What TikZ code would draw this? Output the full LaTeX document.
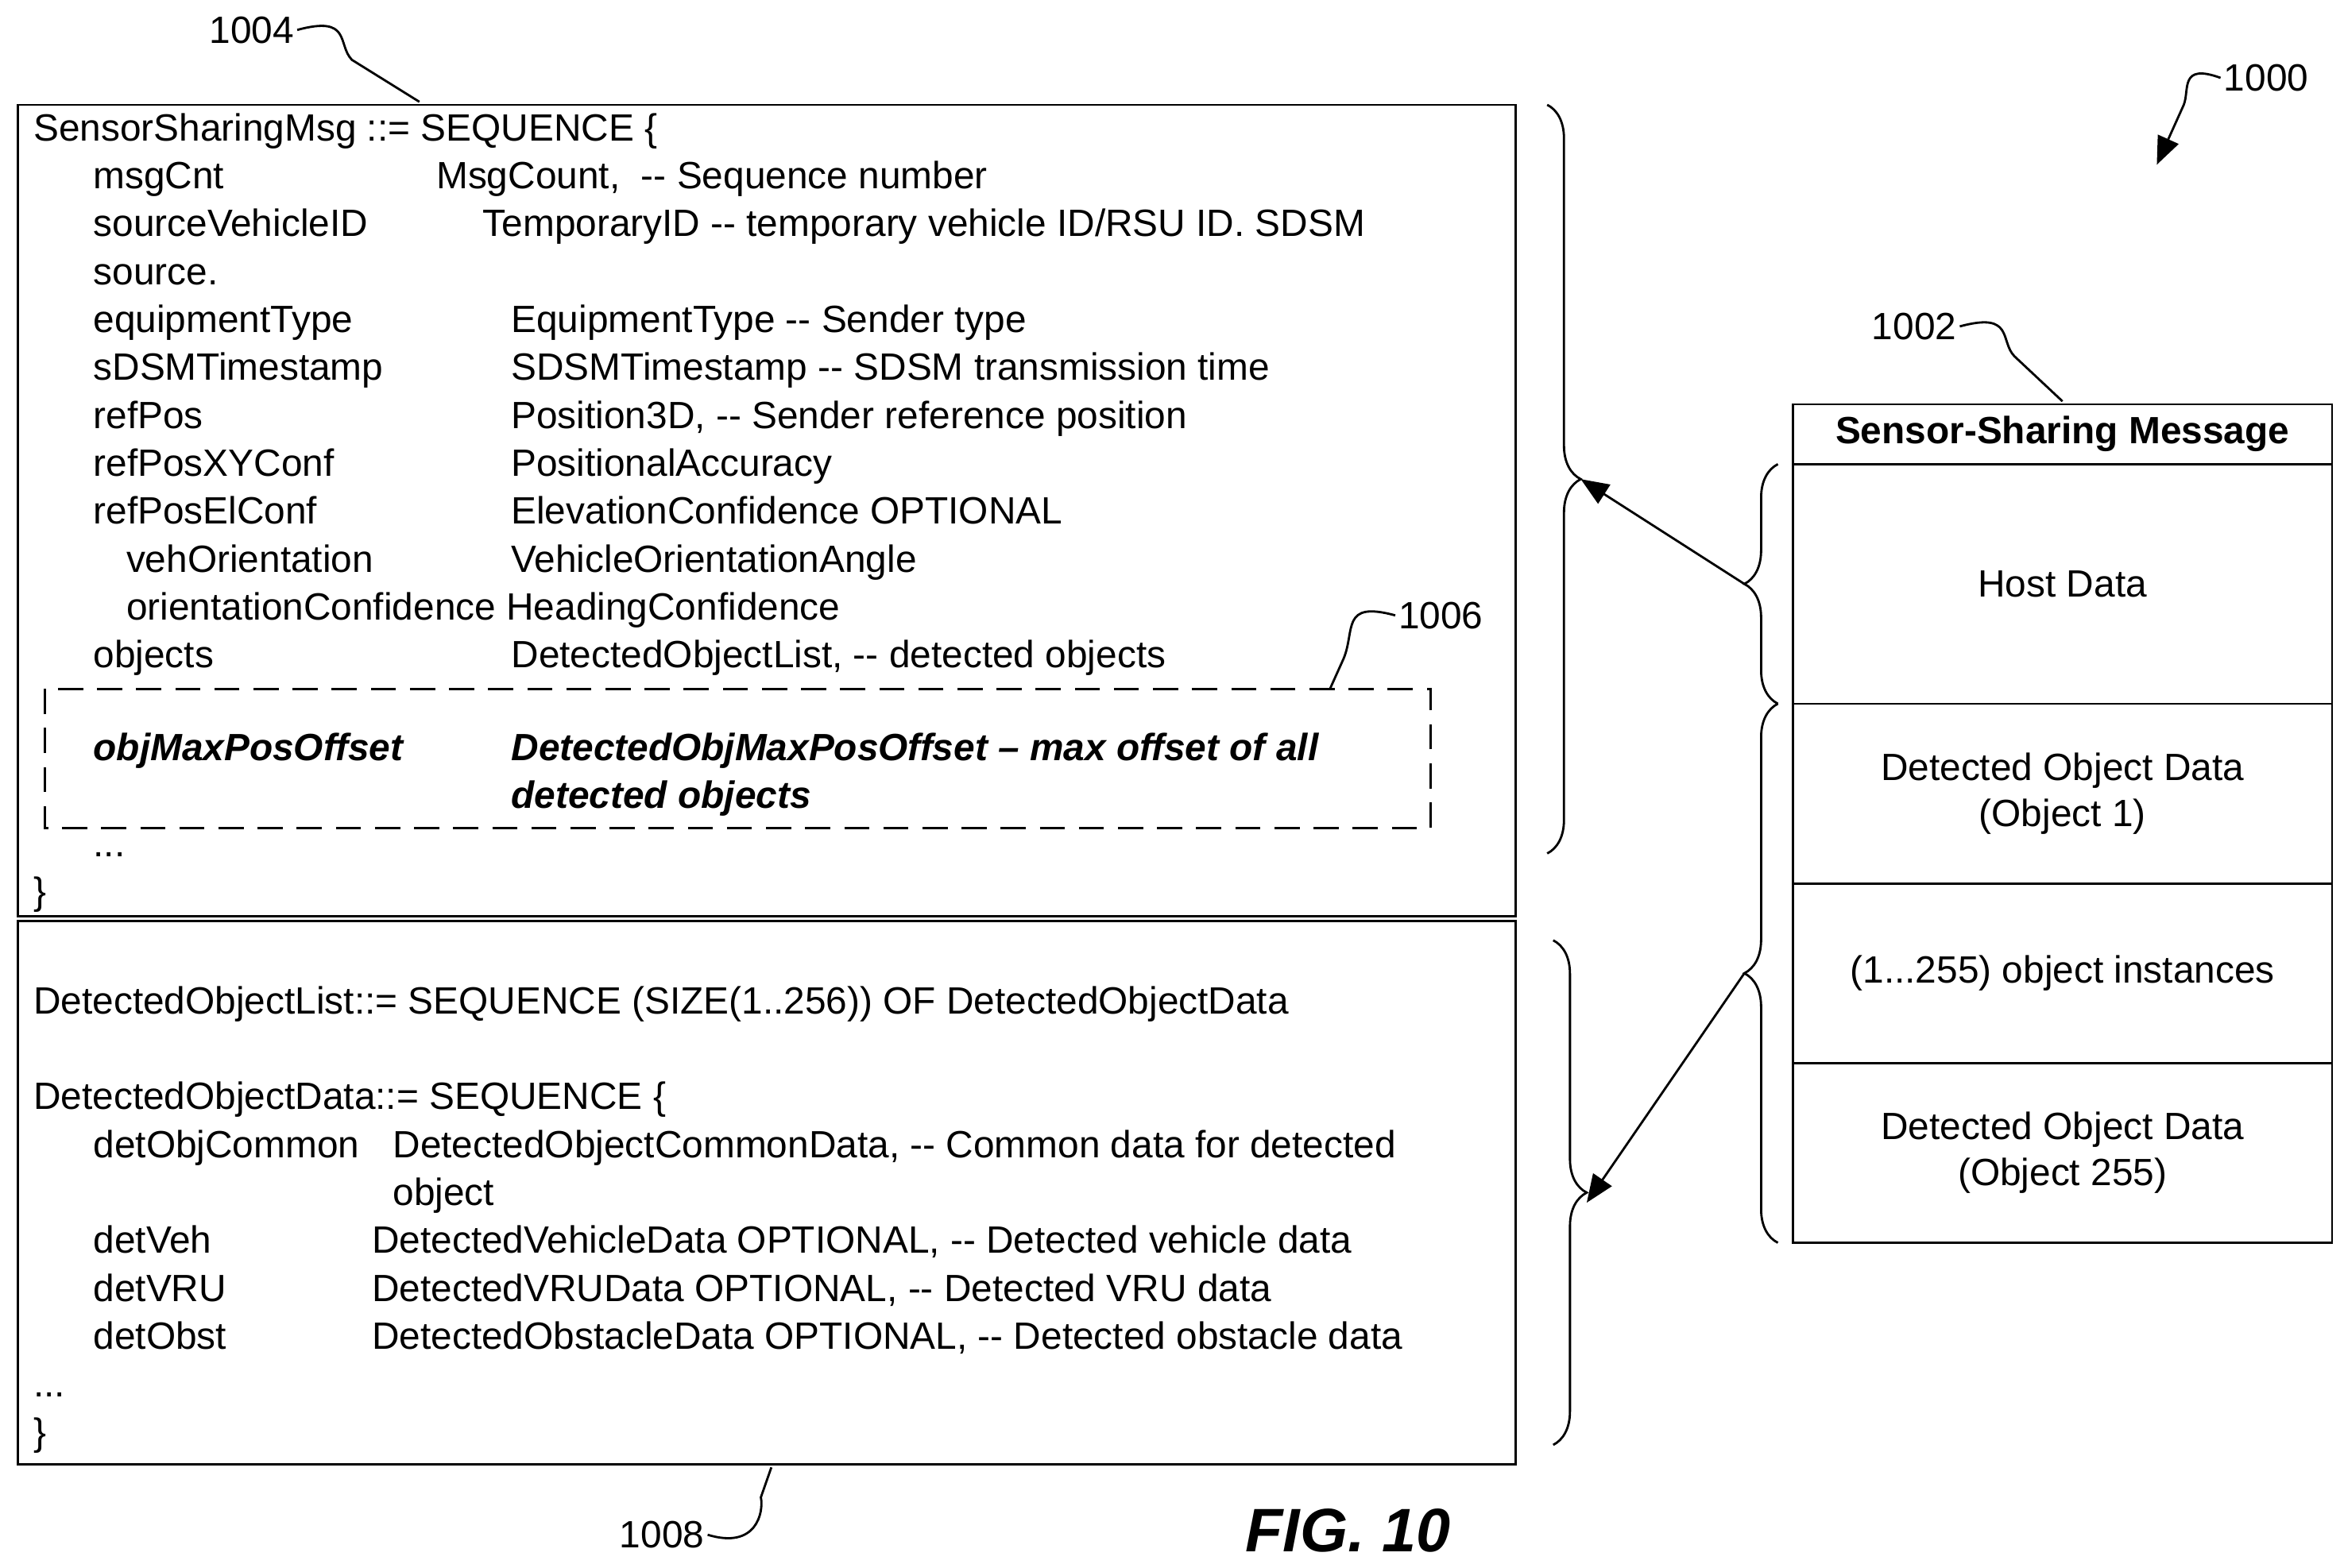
\documentclass[tikz,border=0pt]{standalone}
\usepackage{fontspec}
\setmainfont{Liberation Sans}[Ligatures=NoCommon]
\usetikzlibrary{decorations.pathreplacing,arrows.meta}
\newcommand{\dd}{-{}-}
\begin{document}
\begin{tikzpicture}[x=0.01885cm, y=-0.01885cm,
    txt/.style={anchor=base west, inner sep=0, font=\fontsize{13.6}{15}\selectfont},
    bold/.style={txt, font=\fontsize{13.6}{15}\selectfont\bfseries\itshape},
    cell/.style={draw, thick, minimum width=360*0.01885cm, align=center, font=\fontsize{13.6}{16.5}\selectfont},
    brc/.style={draw, thick, decorate, decoration={brace, amplitude=12pt}},
    lead/.style={draw, thick},
    num/.style={inner sep=1pt, font=\fontsize{13.6}{15}\selectfont}]
\useasboundingbox (0,0) rectangle (1565,1047);

% boxes
\draw[thick] (12,70) rectangle (1012,612);
\draw[thick] (12,615) rectangle (1012,978);
\draw[thick, dashed, dash pattern=on 9pt off 5pt] (30,460) rectangle (955,553);

% upper listing
\node[txt] (s0) at (22,94) {SensorSharingMsg ::= SEQUENCE \{};
\node[txt] at (62,126) {msgCnt};
\node[txt] at (291,126) {MsgCount,\ \ \dd{} Sequence number};
\node[txt] at (62,158) {sourceVehicleID};
\node[txt] at (322,158) {TemporaryID \dd{} temporary vehicle ID/RSU ID. SDSM};
\node[txt] at (62,190) {source.};
\node[txt] at (62,222) {equipmentType};
\node[txt] at (341,222) {EquipmentType \dd{} Sender type};
\node[txt] at (62,254) {sDSMTimestamp};
\node[txt] at (341,254) {SDSMTimestamp \dd{} SDSM transmission time};
\node[txt] at (62,286) {refPos};
\node[txt] at (341,286) {Position3D, \dd{} Sender reference position};
\node[txt] at (62,318) {refPosXYConf};
\node[txt] at (341,318) {PositionalAccuracy};
\node[txt] at (62,350) {refPosElConf};
\node[txt] at (341,350) {ElevationConfidence OPTIONAL};
\node[txt] at (84,382) {vehOrientation};
\node[txt] at (341,382) {VehicleOrientationAngle};
\node[txt] at (84,414) {orientationConfidence HeadingConfidence};
\node[txt] at (62,446) {objects};
\node[txt] at (341,446) {DetectedObjectList, \dd{} detected objects};
\node[bold] at (62,508) {objMaxPosOffset};
\node[bold] at (341,508) {DetectedObjMaxPosOffset -- max offset of all};
\node[bold] at (341,540) {detected objects};
\node[txt] at (62,572) {...};
\node[txt] at (22,604) {\}};

% lower listing
\node[txt] at (22,677) {DetectedObjectList::= SEQUENCE (SIZE(1..256)) OF DetectedObjectData};
\node[txt] at (22,741) {DetectedObjectData::= SEQUENCE \{};
\node[txt] at (62,773) {detObjCommon};
\node[txt] at (262,773) {DetectedObjectCommonData, \dd{} Common data for detected};
\node[txt] at (262,805) {object};
\node[txt] at (62,837) {detVeh};
\node[txt] at (248,837) {DetectedVehicleData OPTIONAL, \dd{} Detected vehicle data};
\node[txt] at (62,869) {detVRU};
\node[txt] at (248,869) {DetectedVRUData OPTIONAL, \dd{} Detected VRU data};
\node[txt] at (62,901) {detObst};
\node[txt] at (248,901) {DetectedObstacleData OPTIONAL, \dd{} Detected obstacle data};
\node[txt] at (22,933) {...};
\node[txt] at (22,965) {\}};

% message table
\node[cell, minimum height=40*0.01885cm, font=\fontsize{13.6}{15}\selectfont\bfseries] (title) at (1377,290) {Sensor-Sharing Message};
\node[cell, minimum height=160*0.01885cm] (host) at (1377,390) {Host Data};
\node[cell, minimum height=120*0.01885cm] (obj1) at (1377,530) {Detected Object Data\\(Object 1)};
\node[cell, minimum height=120*0.01885cm] (inst) at (1377,650) {(1...255) object instances};
\node[cell, minimum height=120*0.01885cm] (obj255) at (1377,770) {Detected Object Data\\(Object 255)};

% braces
\draw[brc] (1033,70) -- (1033,570) coordinate[midway, xshift=12pt] (bt);
\draw[brc] (1037,628) -- (1037,965) coordinate[pos=0.52, xshift=12pt] (bb);
\draw[brc] (1187,470) -- (1187,310) coordinate[midway, xshift=-12pt] (rh);
\draw[brc] (1187,830) -- (1187,470) coordinate[pos=0.5, xshift=-12pt] (ro);
\draw[thick, -{Triangle[length=10pt,width=8pt]}] (rh) -- (bt);
\draw[thick, -{Triangle[length=10pt,width=8pt]}] (ro) -- (bb);

% reference numerals
\node[num] (n1004) at (168,20) {1004};
\node[num] (n1000) at (1513,52) {1000};
\node[num] (n1002) at (1278,218) {1002};
\node[num] (n1006) at (962,411) {1006};
\node[num] (n1008) at (442,1025) {1008};
\coordinate (c1004) at (280,68);
\coordinate (c1002) at (1377,268);
\coordinate (c1006) at (888,460);
\coordinate (c1008) at (515,980);
\coordinate (c1000) at (1440,110);
\draw[lead] (n1004.east) .. controls (235,10) and (225,30) .. (235,40) -- (c1004);
\draw[lead] (n1002.east) .. controls (1345,208) and (1335,228) .. (1345,238) -- (c1002);
\draw[lead] (n1006.west) .. controls (895,401) and (905,421) .. (897,440) -- (c1006);
\draw[lead] (n1008.east) .. controls (505,1035) and (510,1010) .. (508,1000) -- (c1008);
\draw[thick, -{Triangle[length=10pt,width=8pt]}] (n1000.west) .. controls (1455,42) and (1462,60) .. (1458,70) -- (c1000);

\node[font=\fontsize{22}{26}\selectfont\bfseries\itshape] (fig) at (900,1022) {FIG. 10};
\end{tikzpicture}
\end{document}
